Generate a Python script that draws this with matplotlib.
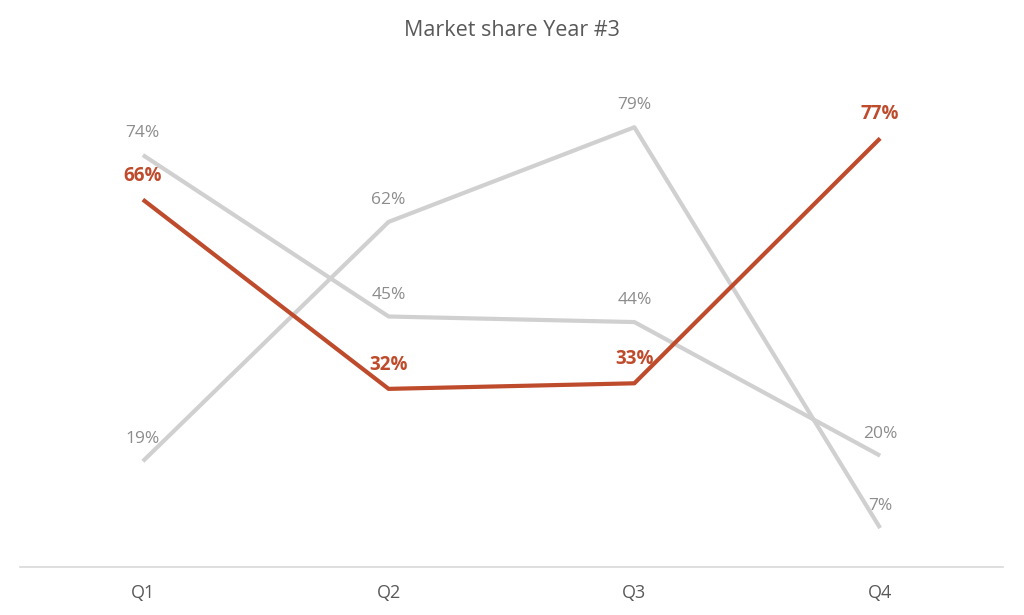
import matplotlib.pyplot as plt

plt.rcParams['font.family'] = ['Open Sans', 'DejaVu Sans']

quarters = ['Q1', 'Q2', 'Q3', 'Q4']
highlight = [0.66, 0.32, 0.33, 0.77]
other_a = [0.74, 0.45, 0.44, 0.20]
other_b = [0.19, 0.62, 0.79, 0.07]

red = '#BE4B2C'
grey_line = '#D0D0D0'
grey_text = '#8C8C8C'

fig = plt.figure(figsize=(10.24, 6.15), dpi=100)
ax = fig.add_axes([20 / 1024, 1 - 567 / 615, 983 / 1024, 501 / 615])
x = range(len(quarters))

for series in (other_a, other_b):
    ax.plot(x, series, color=grey_line, lw=3, solid_capstyle='butt')
    for i, v in enumerate(series):
        ax.annotate(f'{v:.0%}', (i, v), xytext=(0, 22), textcoords='offset pixels',
                    ha='center', va='center', fontsize=12.5, color=grey_text)

ax.plot(x, highlight, color=red, lw=3, solid_capstyle='butt')
for i, v in enumerate(highlight):
    ax.annotate(f'{v:.0%}', (i, v), xytext=(0, 24), textcoords='offset pixels',
                ha='center', va='center', fontsize=13.5, color=red, fontweight='bold')

ax.set_xlim(-0.5, 3.5)
ax.set_ylim(0, 0.9)
ax.set_xticks(list(x))
ax.set_xticklabels(quarters, fontsize=13, color='#595959')
ax.tick_params(axis='x', length=0, pad=12)
ax.set_yticks([])
for side in ('top', 'right', 'left'):
    ax.spines[side].set_visible(False)
ax.spines['bottom'].set_color('#D9D9D9')
ax.spines['bottom'].set_linewidth(1.2)

fig.text(0.5, 1 - 31 / 615, 'Market share Year #3', ha='center', va='center',
         fontsize=15.5, color='#595959')

fig.savefig('out.png', dpi=100)
